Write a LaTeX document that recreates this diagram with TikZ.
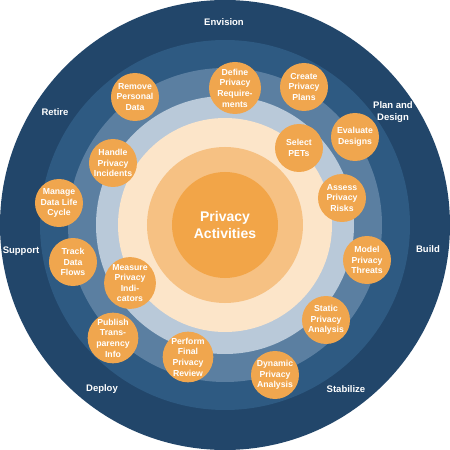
\documentclass[tikz,border=0pt]{standalone}
\usepackage{fontspec}
\setmainfont{Liberation Sans}
\definecolor{ringnavy}{HTML}{22466A}
\definecolor{ringblue}{HTML}{2E5A82}
\definecolor{ringslate}{HTML}{5B7FA1}
\definecolor{ringmist}{HTML}{B9C9D9}
\definecolor{ringcream}{HTML}{FCE5C9}
\definecolor{ringpeach}{HTML}{F6C183}
\definecolor{corefill}{HTML}{F2A548}
\definecolor{activity}{HTML}{F0A64E}
\tikzset{
    bubble/.style = {circle, fill = activity, minimum size = 48pt, inner sep = 0pt, text = white, align = center, font = \bfseries\fontsize{8.7}{10.6}\selectfont},
    phase/.style = {text = white, align = center, font = \bfseries\fontsize{9.5}{11.5}\selectfont}
}
\begin{document}
\begin{tikzpicture}[x = 1pt, y = 1pt]
            \useasboundingbox (-225,-225) rectangle (225,225);
            % rings, outside in
            \fill[ringnavy] (0,0) circle (225);
            \fill[ringblue] (0,0) circle (185);
            \fill[ringslate] (0,0) circle (157);
            \fill[ringmist] (0,0) circle (129);
            \fill[ringcream] (0,0) circle (107);
            \fill[ringpeach] (0,0) circle (78);
            \fill[corefill] (0,0) circle (53);
            \node[text = white, align = center, font = \bfseries\fontsize{14}{17}\selectfont] (core) at (0,0) {Privacy\\Activities};
            % phases
            \node[phase] (envision) at (-1,203) {Envision};
            \node[phase] (plan) at (168,113) {Plan and\\Design};
            \node[phase] (build) at (203,-24) {Build};
            \node[phase] (stabilize) at (121,-164) {Stabilize};
            \node[phase] (deploy) at (-123,-164) {Deploy};
            \node[phase] (support) at (-204,-26) {Support};
            \node[phase] (retire) at (-170,113) {Retire};
            % activities
            \node[bubble] (remove) at (-90,128) {Remove\\Personal\\Data};
            \node[bubble] (define) at (10,137) {Define\\Privacy\\Require-\\ments};
            \node[bubble] (create) at (79,138) {Create\\Privacy\\Plans};
            \node[bubble] (evaluate) at (130,88) {Evaluate\\Designs};
            \node[bubble] (select) at (74,77) {Select\\PETs};
            \node[bubble] (assess) at (117,27) {Assess\\Privacy\\Risks};
            \node[bubble] (model) at (142,-35) {Model\\Privacy\\Threats};
            \node[bubble] (static) at (101,-95) {Static\\Privacy\\Analysis};
            \node[bubble] (dynamic) at (50,-150) {Dynamic\\Privacy\\Analysis};
            \node[bubble] (perform) at (-37,-132) {Perform\\Final\\Privacy\\Review};
            \node[bubble] (publish) at (-112,-113) {Publish\\Trans-\\parency\\Info};
            \node[bubble] (measure) at (-95,-58) {Measure\\Privacy\\Indi-\\cators};
            \node[bubble] (track) at (-152,-37) {Track\\Data\\Flows};
            \node[bubble] (manage) at (-166,22) {Manage\\Data Life\\Cycle};
            \node[bubble] (handle) at (-112,62) {Handle\\Privacy\\Incidents};
\end{tikzpicture}
\end{document}
